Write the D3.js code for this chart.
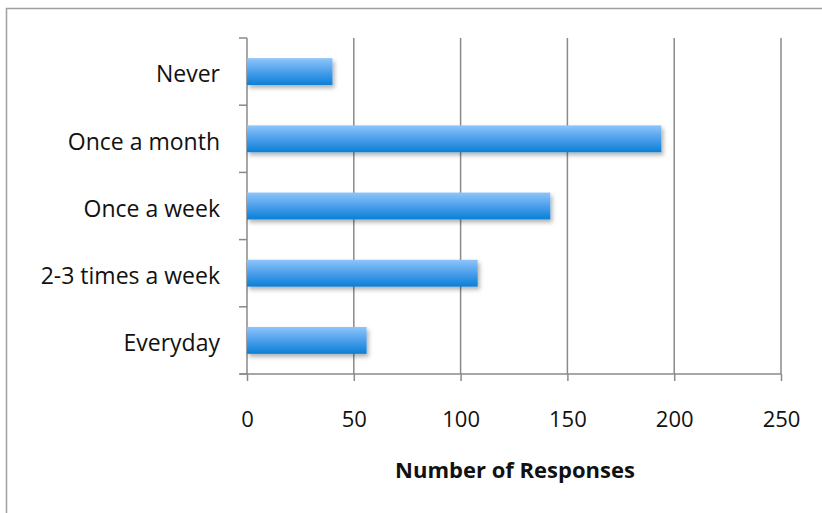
<!DOCTYPE html>
<html><head><meta charset="utf-8">
<script src="https://cdn.jsdelivr.net/npm/d3@7"></script>
<style>body{margin:0;background:#fff}svg{display:block}</style>
</head><body>
<svg id="c" width="822" height="513"></svg>
<script>
const categories = ["Never","Once a month","Once a week","2-3 times a week","Everyday"];
const values = [40,194,142,108,56];
const xTicks = [0,50,100,150,200,250];
const xTitle = "Number of Responses";

const svg = d3.select("#c");
const font = "'Open Sans', 'Liberation Sans', sans-serif";
const m = {left:247, right:781, top:38, bottom:374};

// outer border
svg.append("rect").attr("x",6.5).attr("y",8.5).attr("width",830).attr("height",530)
  .attr("fill","none").attr("stroke","#a0a0a0").attr("stroke-width",1.5);

const defs = svg.append("defs");
const g = defs.append("linearGradient").attr("id","bg").attr("x1",0).attr("y1",0).attr("x2",0).attr("y2",1);
g.append("stop").attr("offset","0%").attr("stop-color","#8ec5fb");
g.append("stop").attr("offset","50%").attr("stop-color","#4c9feb");
g.append("stop").attr("offset","100%").attr("stop-color","#0a7fd6");
const f = defs.append("filter").attr("id","sh").attr("x","-10%").attr("y","-30%").attr("width","130%").attr("height","180%");
f.append("feDropShadow").attr("dx",2).attr("dy",3).attr("stdDeviation",2).attr("flood-color","#000").attr("flood-opacity",0.3);

const x = d3.scaleLinear().domain([0,250]).range([m.left,m.right]);
const y = d3.scaleBand().domain(categories).range([m.top,m.bottom]).paddingInner(0.6).paddingOuter(0.3);

// gridlines
svg.append("g").selectAll("line").data(xTicks.slice(1)).join("line")
  .attr("x1",d=>x(d)).attr("x2",d=>x(d)).attr("y1",m.top).attr("y2",m.bottom)
  .attr("stroke","#8a8a8a").attr("stroke-width",1.5);

// x axis
const xa = svg.append("g").attr("transform",`translate(0,${m.bottom})`)
  .call(d3.axisBottom(x).tickValues(xTicks).tickSize(7).tickFormat(d3.format("d")));
xa.select(".domain").attr("stroke","#8a8a8a").attr("stroke-width",1.5).attr("d",`M${m.left-7},0H${m.right}`);
xa.selectAll(".tick line").attr("stroke","#8a8a8a").attr("stroke-width",1.5);
xa.selectAll(".tick text").attr("font-family",font).attr("font-size",22).attr("fill","#111")
  .attr("y",53).attr("dy",0);

// y axis
const yEdges = d3.range(categories.length+1).map(i=>m.top+i*(m.bottom-m.top)/categories.length);
const ya = svg.append("g");
ya.append("line").attr("x1",m.left).attr("x2",m.left).attr("y1",m.top).attr("y2",m.bottom)
  .attr("stroke","#8a8a8a").attr("stroke-width",1.5);
ya.selectAll(".yt").data(yEdges).join("line").attr("class","yt")
  .attr("x1",m.left-8).attr("x2",m.left).attr("y1",d=>d).attr("y2",d=>d)
  .attr("stroke","#8a8a8a").attr("stroke-width",1.5);
ya.selectAll("text").data(categories).join("text")
  .attr("x",220).attr("y",d=>y(d)+y.bandwidth()/2+2.5).attr("dy","0.36em")
  .attr("text-anchor","end").attr("font-family",font).attr("font-size",23).attr("fill","#111")
  .text(d=>d);

// bars
svg.append("g").selectAll("rect").data(categories).join("rect")
  .attr("x",x(0)).attr("y",d=>y(d)).attr("width",(d,i)=>x(values[i])-x(0)).attr("height",y.bandwidth())
  .attr("fill","url(#bg)").attr("filter","url(#sh)");

// title
svg.append("text").attr("x",515).attr("y",478).attr("text-anchor","middle")
  .attr("font-family",font).attr("font-size",22).attr("font-weight","bold").attr("fill","#111").text(xTitle);
</script>
</body></html>
